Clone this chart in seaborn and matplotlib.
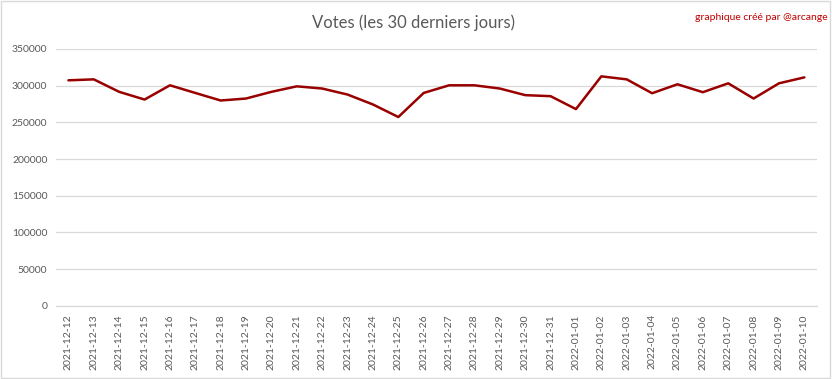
import matplotlib
matplotlib.use("Agg")
import matplotlib.pyplot as plt
import seaborn as sns
import pandas as pd
from matplotlib.patches import Rectangle

dates = ["2021-12-12", "2021-12-13", "2021-12-14", "2021-12-15", "2021-12-16",
         "2021-12-17", "2021-12-18", "2021-12-19", "2021-12-20", "2021-12-21",
         "2021-12-22", "2021-12-23", "2021-12-24", "2021-12-25", "2021-12-26",
         "2021-12-27", "2021-12-28", "2021-12-29", "2021-12-30", "2021-12-31",
         "2022-01-01", "2022-01-02", "2022-01-03", "2022-01-04", "2022-01-05",
         "2022-01-06", "2022-01-07", "2022-01-08", "2022-01-09", "2022-01-10"]
votes = [307200, 308500, 291500, 281000, 300400,
         290000, 279700, 282400, 291500, 299000,
         296000, 287800, 274300, 257200, 290000,
         300400, 300400, 296000, 287000, 285600,
         268000, 312600, 308500, 289600, 301800,
         291000, 303100, 282400, 303100, 311200]
yticks = [0, 50000, 100000, 150000, 200000, 250000, 300000, 350000]

df = pd.DataFrame({"date": dates, "votes": votes, "pos": range(len(dates))})

sns.set_theme(style="white")
plt.rcParams["font.family"] = ["Lato", "DejaVu Sans"]

fig = plt.figure(figsize=(8.32, 3.79), dpi=100)
ax = fig.add_axes([0.067, 0.193, 0.915, 0.678])

sns.lineplot(data=df, x="pos", y="votes", ax=ax, color="#990000", linewidth=1.8)

ax.set_xlim(-0.5, len(dates) - 0.5)
ax.set_ylim(0, 350000)
ax.set_yticks(yticks)
ax.set_yticklabels([str(v) for v in yticks], fontsize=7.5, color="#595959")
ax.set_xticks(range(len(dates)))
ax.set_xticklabels(dates, rotation=90, fontsize=7.5, color="#595959")
ax.tick_params(axis="both", length=0, pad=6)
ax.yaxis.grid(True, color="#D9D9D9", linewidth=0.9)
ax.xaxis.grid(False)
for s in ["top", "right", "left"]:
    ax.spines[s].set_visible(False)
ax.spines["bottom"].set_color("#D9D9D9")
ax.spines["bottom"].set_linewidth(0.9)
ax.set_xlabel("")
ax.set_ylabel("")

fig.text(0.497, 0.94, "Votes (les 30 derniers jours)", ha="center", va="center",
         fontsize=12, color="#595959")
fig.text(0.995, 0.955, "graphique créé par @arcange", ha="right", va="center",
         fontsize=7.5, color="#C00000")

fig.patches.append(Rectangle((0.001, 0.002), 0.997, 0.995, transform=fig.transFigure,
                             fill=False, edgecolor="#D9D9D9", linewidth=1))

fig.savefig("out.png", dpi=100)
